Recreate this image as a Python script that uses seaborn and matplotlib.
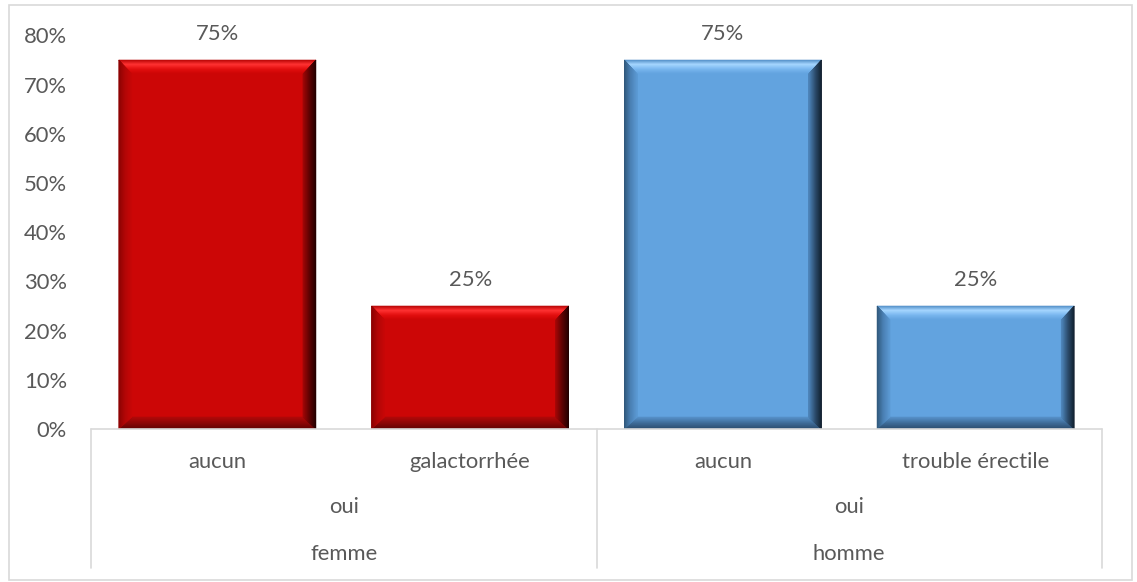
import numpy as np
import pandas as pd
import matplotlib
matplotlib.use("Agg")
import matplotlib.pyplot as plt
from matplotlib.patches import Polygon, Rectangle
from matplotlib.lines import Line2D
from matplotlib.colors import LinearSegmentedColormap
from matplotlib.transforms import blended_transform_factory
import seaborn as sns

# ---- data -------------------------------------------------------------
sexe = ["femme", "femme", "homme", "homme"]
reponse = ["oui", "oui", "oui", "oui"]
trouble = ["aucun", "galactorrhée", "aucun", "trouble érectile"]
pourcentage = [0.75, 0.25, 0.75, 0.25]
y_ticks = [0.0, 0.1, 0.2, 0.3, 0.4, 0.5, 0.6, 0.7, 0.8]
y_tick_labels = ["0%", "10%", "20%", "30%", "40%", "50%", "60%", "70%", "80%"]

couleurs = {"femme": "#CC0606", "homme": "#62A3DF"}

# bevel shading: colour ramps from outer edge to inner face
bevels = {
    "femme": {
        "top": ["#b40404", "#ff3232", "#e41010", "#cc0606"],
        "bottom": ["#5e0202", "#8a0606", "#b00808"],
        "left": ["#8a0202", "#b20606", "#c80606"],
        "right": ["#200000", "#5a0202", "#a00606"],
    },
    "homme": {
        "top": ["#4f8cc6", "#a6d6ff", "#7ab8f0", "#62a3df"],
        "bottom": ["#2a4a6a", "#3e6a96", "#5690c8"],
        "left": ["#2f5678", "#4a80b4", "#5c9ad4"],
        "right": ["#101e2c", "#2c4c6c", "#4e86bc"],
    },
}

df = pd.DataFrame({
    "sexe": sexe,
    "reponse": reponse,
    "trouble": trouble,
    "pourcentage": pourcentage,
})
df["cle"] = df["sexe"] + "|" + df["reponse"] + "|" + df["trouble"]

# ---- figure -----------------------------------------------------------
W, H = 1137, 582
sns.set_style("white")
plt.rcParams["font.family"] = ["Lato", "DejaVu Sans"]
TXT = "#595959"
LINE = "#d9d9d9"
FS = 15.8

fig = plt.figure(figsize=(W / 100, H / 100), dpi=100)
fig.patch.set_facecolor("white")

# outer frame
fig.add_artist(Rectangle((9 / W, 1 - 580 / H), (1132 - 9) / W, (580 - 5) / H,
                         transform=fig.transFigure, fill=False,
                         edgecolor=LINE, linewidth=1.2))

ax_left, ax_right, ax_bottom, ax_top = 91, 1102, 429, 35.4
ax = fig.add_axes([ax_left / W, 1 - ax_bottom / H,
                   (ax_right - ax_left) / W, (ax_bottom - ax_top) / H])

sns.barplot(data=df, x="cle", y="pourcentage", hue="sexe", order=list(df["cle"]),
            palette=couleurs, dodge=False, width=0.78, saturation=1,
            legend=False, ax=ax, linewidth=0)

ax.set_xlim(-0.5, len(df) - 0.5)
ax.set_ylim(0, 0.8)
ax.set_xlabel("")
ax.set_ylabel("")
for s in ax.spines.values():
    s.set_visible(False)

ax.set_yticks(y_ticks)
ax.set_yticklabels(y_tick_labels, color=TXT, fontsize=FS)
ax.tick_params(axis="y", length=0, pad=17.3)

ax.set_xticks(range(len(df)))
ax.set_xticklabels(trouble, color=TXT, fontsize=FS)
ax.tick_params(axis="x", length=0, pad=23.5)
plt.setp(ax.get_xticklabels(), va="center")
ax.grid(False)

# ---- bevelled bars ------------------------------------------------------
to_px = ax.transData.transform
to_data = ax.transData.inverted().transform


def lerp(a, b, t):
    return (a[0] + (b[0] - a[0]) * t, a[1] + (b[1] - a[1]) * t)


def bevel(bar, ramps, n=30):
    x0 = bar.get_x()
    x1 = x0 + bar.get_width()
    h = bar.get_height()
    (X0, Y0), (X1, Y1) = to_px([(x0, 0), (x1, h)])
    bt, bb, bl, br = 14, 12, 13, 13
    BL, BR, TR, TL = (X0, Y0), (X1, Y0), (X1, Y1), (X0, Y1)
    iBL, iBR = (X0 + bl, Y0 + bb), (X1 - br, Y0 + bb)
    iTR, iTL = (X1 - br, Y1 - bt), (X0 + bl, Y1 - bt)
    sides = {
        "bottom": ((BL, BR), (iBL, iBR)),
        "top": ((TL, TR), (iTL, iTR)),
        "left": ((BL, TL), (iBL, iTL)),
        "right": ((BR, TR), (iBR, iTR)),
    }
    for name in ["bottom", "top", "left", "right"]:
        (oa, ob), (ia, ib) = sides[name]
        cmap = LinearSegmentedColormap.from_list(name, ramps[name])
        ts = np.linspace(0, 1, n + 1)
        for t0, t1 in zip(ts[:-1], ts[1:]):
            pts = [lerp(oa, ia, t0), lerp(ob, ib, t0),
                   lerp(ob, ib, t1), lerp(oa, ia, t1)]
            c = cmap((t0 + t1) / 2)
            ax.add_patch(Polygon(to_data(pts), closed=True, facecolor=c,
                                 edgecolor=c, linewidth=0.4, zorder=3))


for bar, sx in zip(ax.patches, df["sexe"]):
    bevel(bar, bevels[sx])

# value labels above each bar
for bar, v in zip(ax.patches, df["pourcentage"]):
    ax.annotate(f"{v:.0%}", xy=(bar.get_x() + bar.get_width() / 2, v),
                xytext=(0, 18.5), textcoords="offset points",
                ha="center", va="center", color=TXT, fontsize=FS)

# ---- multi-level category axis -----------------------------------------
trans = blended_transform_factory(ax.transData, ax.transAxes)
ax_h = ax_bottom - ax_top


def ay(py):
    return (ax_bottom - py) / ax_h


box_bottom = ay(568)
ax.add_line(Line2D([-0.5, len(df) - 0.5], [0, 0], transform=trans,
                   color=LINE, linewidth=1.2, clip_on=False, zorder=4))

groupes = list(dict.fromkeys(df["sexe"]))
bounds = [-0.5]
for g in groupes:
    idx = df.index[df["sexe"] == g]
    lo, hi = idx.min() - 0.5, idx.max() + 0.5
    bounds.append(hi)
    mid = (lo + hi) / 2
    rep = df.loc[idx, "reponse"].iloc[0]
    ax.text(mid, ay(507), rep, transform=trans, ha="center", va="center",
            color=TXT, fontsize=FS, clip_on=False)
    ax.text(mid, ay(554), g, transform=trans, ha="center", va="center",
            color=TXT, fontsize=FS, clip_on=False)

for b in bounds:
    ax.add_line(Line2D([b, b], [0, box_bottom], transform=trans,
                       color=LINE, linewidth=1.2, clip_on=False))

fig.savefig("out.png", dpi=100, facecolor="white")
